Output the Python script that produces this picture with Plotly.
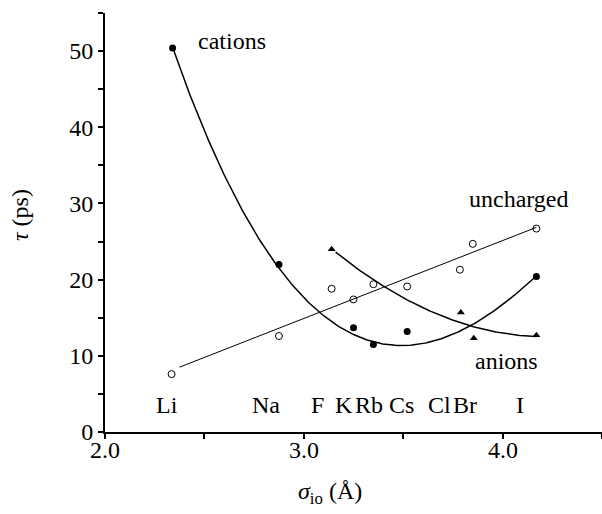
import numpy as np
import plotly.graph_objects as go

# Data
cation_x = [2.34, 2.875, 3.25, 3.35, 3.52, 4.17]
cation_y = [50.4, 22.0, 13.7, 11.5, 13.2, 20.4]
cation_fit_weights = [1, 1, 1, 3, 1, 1]

uncharged_x = [2.335, 2.875, 3.14, 3.25, 3.35, 3.52, 3.785, 3.85, 4.17]
uncharged_y = [7.6, 12.6, 18.8, 17.4, 19.4, 19.1, 21.3, 24.7, 26.7]

anion_x = [3.14, 3.79, 3.855, 4.17]
anion_y = [24.0, 15.7, 12.3, 12.7]

element_labels = ["Li", "Na", "F", "K", "Rb", "Cs", "Cl", "Br", "I"]
element_label_x = [2.31, 2.81, 3.07, 3.20, 3.33, 3.49, 3.685, 3.81, 4.085]
element_label_y = 3.5

x_tick_vals = [2.0, 3.0, 4.0]
x_tick_text = ["2.0", "3.0", "4.0"]

FONT = "Liberation Serif"
FS = 24

fig = go.Figure()

# Fitted curves
xc = np.linspace(cation_x[0], cation_x[-1], 200)
pc = np.polyfit(cation_x, cation_y, 3, w=cation_fit_weights)
fig.add_trace(go.Scatter(x=xc, y=np.polyval(pc, xc), mode="lines",
                         line=dict(color="black", width=1.5), showlegend=False))

xu = np.linspace(2.375, uncharged_x[-1], 50)
pu = np.polyfit(uncharged_x, uncharged_y, 1)
fig.add_trace(go.Scatter(x=xu, y=np.polyval(pu, xu), mode="lines",
                         line=dict(color="black", width=1), showlegend=False))

xa = np.linspace(3.16, anion_x[-1], 100)
pa = np.polyfit(anion_x, anion_y, 2)
fig.add_trace(go.Scatter(x=xa, y=np.polyval(pa, xa), mode="lines",
                         line=dict(color="black", width=1.5), showlegend=False))

# Markers
fig.add_trace(go.Scatter(x=cation_x, y=cation_y, mode="markers",
                         marker=dict(symbol="circle", size=7, color="black"), showlegend=False))
fig.add_trace(go.Scatter(x=uncharged_x, y=uncharged_y, mode="markers",
                         marker=dict(symbol="circle-open", size=7, color="black", line=dict(width=1)),
                         showlegend=False))
fig.add_trace(go.Scatter(x=anion_x, y=anion_y, mode="markers",
                         marker=dict(symbol="triangle-up", size=7, color="black"), showlegend=False))

txtfont = dict(family=FONT, size=FS, color="black")
for lab, lx in zip(element_labels, element_label_x):
    fig.add_annotation(x=lx, y=element_label_y, text=lab, showarrow=False, font=txtfont)

fig.add_annotation(x=2.64, y=51.3, text="cations", showarrow=False, font=txtfont)
fig.add_annotation(x=4.08, y=30.6, text="uncharged", showarrow=False, font=txtfont)
fig.add_annotation(x=4.02, y=9.3, text="anions", showarrow=False, font=txtfont)

# x tick labels (placed close to the axis as in the reference)
for tv, tt in zip(x_tick_vals, x_tick_text):
    fig.add_annotation(x=tv, xref="x", yref="paper", y=-0.043, xanchor="center", yanchor="middle",
                       text=tt, showarrow=False, font=txtfont)

# Axis titles
fig.add_annotation(xref="paper", yref="paper", x=0.453, y=-0.146,
                   xanchor="center", yanchor="middle",
                   text="<i>σ</i><sub>io</sub> (Å)", showarrow=False, font=txtfont)
fig.add_annotation(xref="paper", yref="paper", x=-0.171, y=0.518,
                   xanchor="center", yanchor="middle",
                   text="<i>τ</i> (ps)", showarrow=False, textangle=-90, font=txtfont)

fig.update_layout(
    width=602, height=514,
    margin=dict(l=105, r=0, t=13, b=82),
    plot_bgcolor="white", paper_bgcolor="white",
    font=dict(family=FONT, size=FS, color="black"),
    xaxis=dict(range=[2.0, 4.5], dtick=1, tick0=2, showticklabels=False,
               ticks="outside", ticklen=5, tickwidth=1.5, tickcolor="black",
               minor=dict(ticks="outside", dtick=0.5, ticklen=5, tickwidth=1.5, tickcolor="black"),
               showline=True, linecolor="black", linewidth=2, showgrid=False, zeroline=False),
    yaxis=dict(range=[0, 55], dtick=10, tick0=0,
               ticks="outside", ticklen=5, tickwidth=1.5, tickcolor="black",
               tickfont=txtfont,
               minor=dict(ticks="outside", dtick=5, ticklen=5, tickwidth=1.5, tickcolor="black"),
               showline=True, linecolor="black", linewidth=2, showgrid=False, zeroline=False),
)

fig.write_html("out.html")
